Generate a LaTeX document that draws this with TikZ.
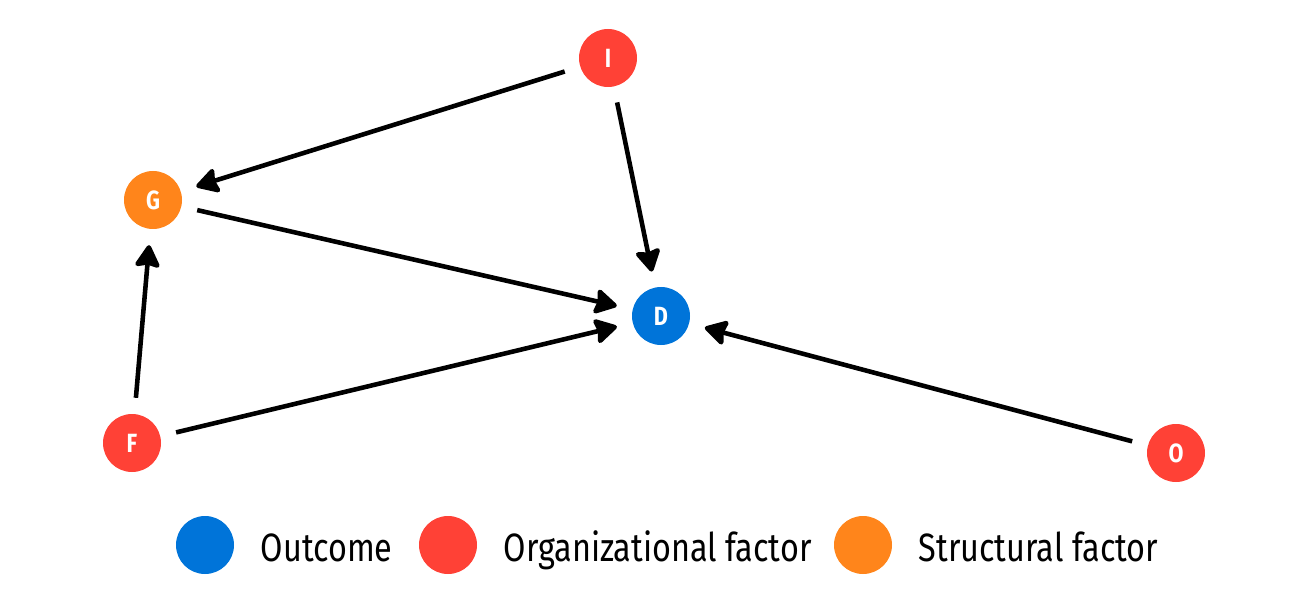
\documentclass[tikz,border=0pt]{standalone}
\usepackage{fontspec}
\setmainfont{Fira Sans}[FakeStretch=0.82]
\usetikzlibrary{arrows.meta,positioning}
\definecolor{outblue}{HTML}{0074D9}
\definecolor{orgred}{HTML}{FF4136}
\definecolor{strorange}{HTML}{FF851B}

\tikzset{
    factor/.style={circle, minimum size=1.16cm, inner sep=0pt, text=white, font=\bfseries\fontsize{15}{15}\selectfont},
    outcome/.style={factor, fill=outblue},
    organizational/.style={factor, fill=orgred},
    structural/.style={factor, fill=strorange},
    legtext/.style={font=\fontsize{22.5}{22.5}\selectfont, anchor=west, inner sep=0pt, text height=0.74cm, text depth=0.1cm},
}

\begin{document}
\begin{tikzpicture}[node distance=0.52cm, auto]
    \useasboundingbox (0,0) rectangle (26,12);
    	\node[organizational] (i) at (12.16,10.84) {I};
    	\node[structural] (g) at (3.06,8.00) {G};
    	\node[outcome] (d) at (13.22,5.68) {D};
    	\node[organizational] (f) at (2.64,3.14) {F};
    	\node[organizational] (o) at (23.52,2.94) {O};
    	
    	\path [-{Stealth[length=0.5cm,width=0.56cm,inset=0.06cm,round]}, line width=2.6pt, shorten >=0.32cm, shorten <=0.32cm]
    		(i) edge (g)
    		(i) edge (d)
    		(g) edge (d)
    		(f) edge (g)
    		(f) edge (d)
    		(o) edge (d)
    	;
    	
    	% legend
    	\node[outcome] (legout) at (4.10,1.10) {};
    	\node[legtext, right=of legout] (legouttext) {Outcome};
    	\node[organizational] (legorg) at (8.96,1.10) {};
    	\node[legtext, right=of legorg] (legorgtext) {Organizational factor};
    	\node[structural] (legstr) at (17.26,1.10) {};
    	\node[legtext, right=of legstr] (legstrtext) {Structural factor};
    \end{tikzpicture}
\end{document}
